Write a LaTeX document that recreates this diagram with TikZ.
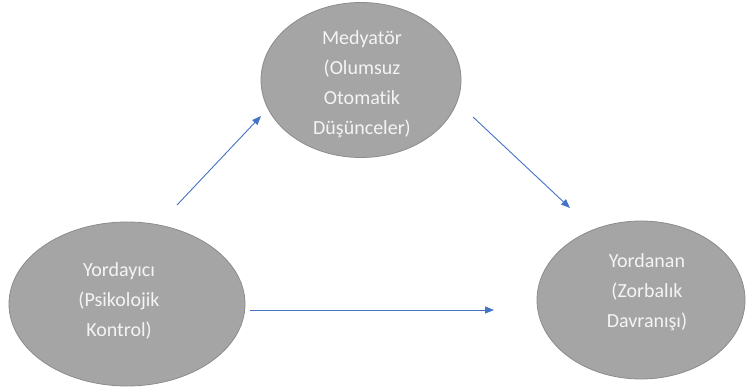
\documentclass[tikz,border=0pt]{standalone}
\usepackage{fontspec}
\setmainfont{Carlito}[RawFeature=-liga]
\usetikzlibrary{arrows.meta,shapes.geometric}
\definecolor{ellfill}{HTML}{A5A5A5}
\definecolor{elldraw}{HTML}{8C8C8C}
\definecolor{arrblue}{HTML}{4472C4}
\definecolor{txt}{HTML}{F4F4F4}
\tikzset{
  ellnode/.style={ellipse, fill=ellfill, draw=elldraw, line width=0.8pt, inner sep=0pt},
  elltext/.style={text=txt, align=center, font=\fontsize{20}{30}\selectfont, inner sep=0pt},
  arr/.style={draw=arrblue, line width=0.9pt, -{Triangle[length=9pt,width=7pt]}}
}
\begin{document}
\begin{tikzpicture}[x=1pt,y=-1pt]
\useasboundingbox (0,0) rectangle (749,390);
\node[ellnode, minimum width=200pt, minimum height=155pt] (M) at (361,80) {};
\node[ellnode, minimum width=236pt, minimum height=164pt] (L) at (127,304) {};
\node[ellnode, minimum width=208pt, minimum height=158pt] (R) at (641,300) {};
\node[elltext] (Mt) at (362,84) {Medyatör\\(Olumsuz\\Otomatik\\Düşünceler)};
\node[elltext] (Lt) at (119,301) {Yordayıcı\\(Psikolojik\\Kontrol)};
\node[elltext] (Rt) at (647,292) {Yordanan\\(Zorbalık\\Davranışı)};
\coordinate (a1) at (177,205);
\coordinate (a2) at (261,116);
\coordinate (b1) at (473,117);
\coordinate (b2) at (570,208);
\coordinate (c1) at (250,310);
\coordinate (c2) at (494,310);
\draw[arr] (a1) -- (a2);
\draw[arr] (b1) -- (b2);
\draw[arr] (c1) -- (c2);
\end{tikzpicture}
\end{document}
